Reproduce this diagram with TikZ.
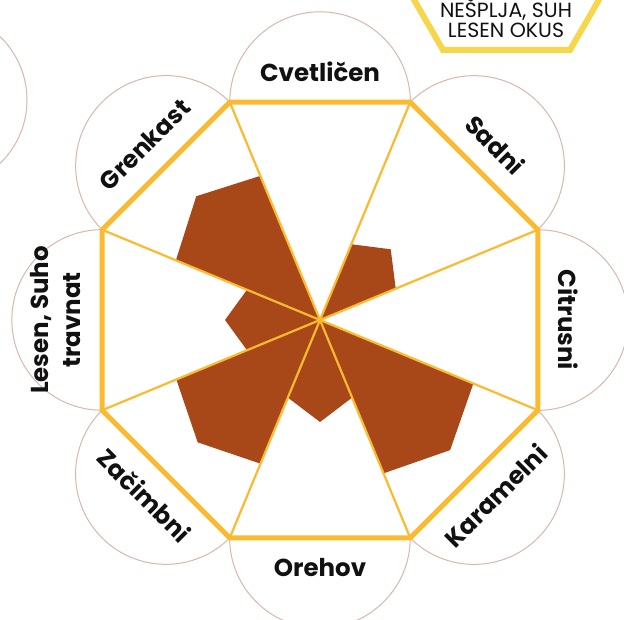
\documentclass[tikz,border=0pt]{standalone}
\usepackage{fontspec}
\setmainfont{Poppins}
\definecolor{octc}{HTML}{FBBA30}
\definecolor{brownc}{HTML}{A84718}
\definecolor{ringc}{HTML}{D6B9AC}
\definecolor{labc}{HTML}{111111}
\definecolor{hexc}{HTML}{F6D64A}
\begin{document}
\begin{tikzpicture}[x=1pt,y=-1pt,
  oct/.style={draw=octc, line width=5pt, line join=miter},
  spoke/.style={draw=octc, line width=2.2pt},
  petal/.style={fill=brownc},
  ring/.style={draw=ringc, line width=1pt},
  lab/.style={font=\bfseries\fontsize{24.5}{32}\selectfont, text=labc, inner sep=0pt, align=center},
  hexline/.style={draw=hexc, line width=6pt, line join=miter},
  hextext/.style={font=\fontsize{20.5}{20}\selectfont, text=labc, inner sep=0pt, anchor=base}]
\path[use as bounding box] (0,0) rectangle (624,620);
\begin{scope}
\clip (0,0) rectangle (624,620);
\fill[white] (0,0) rectangle (624,620);
% neighbour circle and hexagon
\draw[ring] (-61,100) circle (88);
\draw[hexline] (379.5,-60) -- (443,50) -- (570,50) -- (633.5,-60);
\node[hextext] (h1) at (506,18) {NEŠPLJA, SUH};
\node[hextext] (h2) at (506,38) {LESEN OKUS};
\begin{scope}[shift={(320,320)}]
\coordinate (c) at (0,0);
% rings
\foreach \p in {270,315,0,45,90,135,180,225}
  \draw[ring] (\p-22.5:235.85) arc[start angle=\p-90, end angle=\p+90, radius=90.3];
% petals
\foreach \p/\ra/\rb in {225/156/175, 315/82/100, 45/166/184, 90/84/102, 135/155.5/173, 180/79/95}
  \fill[petal] (c) -- (\p-22.5:\ra) -- (\p:\rb) -- (\p+22.5:\ra) -- cycle;
% vertices
\foreach \i in {0,...,7}
  \coordinate (v\i) at (22.5+45*\i:235.85);
\foreach \i in {0,...,7}
  \draw[spoke] (c) -- (v\i);
\draw[oct] (v0) -- (v1) -- (v2) -- (v3) -- (v4) -- (v5) -- (v6) -- (v7) -- cycle;
% labels
\node[lab] (l1) at (270:248) {Cvetličen};
\node[lab, rotate=-45] (l2) at (315:248) {Sadni};
\node[lab, rotate=-90] (l3) at (0:248) {Citrusni};
\node[lab, rotate=45] (l4) at (45:248) {Karamelni};
\node[lab] (l5) at (90:248) {Orehov};
\node[lab, rotate=-45] (l6) at (135:248) {Začimbni};
\node[lab, rotate=90] (l7) at (180:264) {Lesen, Suho\\travnat};
\node[lab, rotate=45] (l8) at (225:248) {Grenkast};
\end{scope}
\end{scope}
\end{tikzpicture}
\end{document}
